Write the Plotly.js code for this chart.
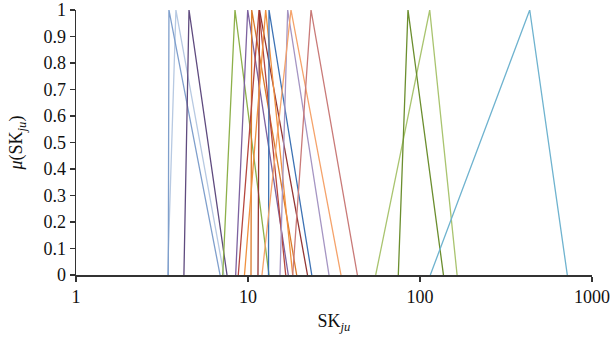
<!DOCTYPE html>
<html><head><meta charset="utf-8">
<script src="https://cdn.plot.ly/plotly-3.0.1.min.js"></script>
<style>html,body{margin:0;padding:0;background:#fff}</style>
</head><body><div id="chart" style="width:611px;height:343px"></div>
<script>
// Triangular fuzzy numbers (lower, peak, upper)
const seriesNames = ["S1","S2","S3","S4","S5","S6","S7","S8","S9","S10","S11","S12","S13","S14","S15","S16"];
const lowerValues = [3.41, 3.44, 4.24, 7.13, 8.48, 10.41, 8.78, 11.43, 9.54, 13.16, 15.35, 12.06, 18.19, 55.26, 74.79, 114.8];
const peakValues  = [3.81, 3.47, 4.54, 8.40, 9.96, 10.51, 11.59, 11.67, 12.67, 13.25, 17.01, 17.78, 23.25, 113.9, 85.15, 434.4];
const upperValues = [7.25, 6.88, 7.55, 13.25, 17.15, 19.19, 16.57, 22.18, 18.19, 23.49, 29.58, 34.73, 43.25, 164.3, 136.9, 718.5];
const membership = [0, 1, 0];
const xTickValues = [1, 10, 100, 1000];
const xTickLabels = ["1", "10", "100", "1000"];
const yTickValues = [0, 0.1, 0.2, 0.3, 0.4, 0.5, 0.6, 0.7, 0.8, 0.9, 1];
const yTickLabels = ["0", "0.1", "0.2", "0.3", "0.4", "0.5", "0.6", "0.7", "0.8", "0.9", "1"];

const seriesColors = ["#B7C9E2","#7F9FCC","#5F4B7F","#8DB04A","#7D62A0","#D9792A","#B5473F","#943634","#F0913F","#3D72B4","#A595C3","#F5A36B","#C97A78","#A9C46F","#6B8E2E","#6FB3CF"];

const traces = seriesNames.map((n, i) => ({
  type: "scatter", mode: "lines", name: n,
  x: [lowerValues[i], peakValues[i], upperValues[i]],
  y: membership,
  line: {color: seriesColors[i], width: 1.3},
  hoverinfo: "none", showlegend: false
}));

const font = {family: "Liberation Serif", size: 18, color: "#111"};
const layout = {
  width: 611, height: 343,
  margin: {l: 76, r: 19, t: 10, b: 68},
  paper_bgcolor: "#fff", plot_bgcolor: "#fff",
  font: font,
  showlegend: false,
  xaxis: {
    type: "log", range: [0, 3],
    tickmode: "array", tickvals: xTickValues, ticktext: xTickLabels,
    ticks: "outside", ticklen: 5, tickwidth: 1.3, tickcolor: "#333",
    showline: true, linecolor: "#333", linewidth: 1.5,
    showgrid: false, zeroline: false,
    tickfont: font, ticklabeloverflow: "allow",
    title: {text: "SK<sub><i>ju</i></sub>", font: font, standoff: 8}
  },
  yaxis: {
    range: [0, 1],
    tickmode: "array", tickvals: yTickValues, ticktext: yTickLabels,
    ticks: "outside", ticklen: 5, tickwidth: 1.3, tickcolor: "#333",
    showline: true, linecolor: "#333", linewidth: 1.5,
    showgrid: false, zeroline: false,
    tickfont: font, ticklabeloverflow: "allow",
    title: {text: "<i>μ</i>(SK<sub><i>ju</i></sub>)", font: font, standoff: 16}
  }
};
Plotly.newPlot("chart", traces, layout, {staticPlot: true, displayModeBar: false});
</script></body></html>
